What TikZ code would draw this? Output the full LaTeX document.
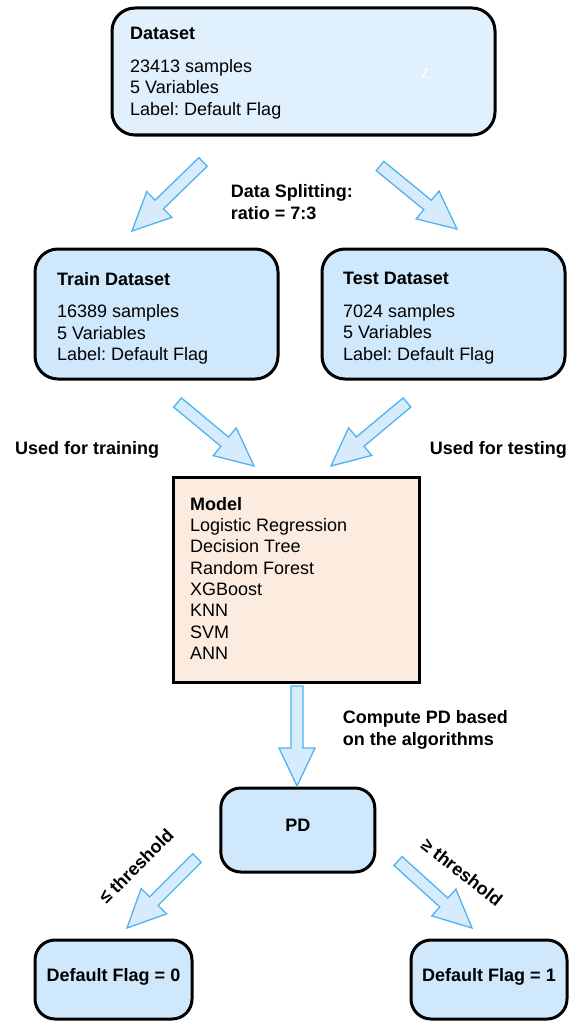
\documentclass[tikz,border=0pt]{standalone}
\usepackage{fontspec}
\setmainfont{Liberation Sans}
\usetikzlibrary{calc}
\frenchspacing

\definecolor{dsfill}{RGB}{224,241,253}
\definecolor{boxfill}{RGB}{208,232,252}
\definecolor{modelfill}{RGB}{252,236,224}
\definecolor{arrowfill}{RGB}{214,236,252}
\definecolor{arrowline}{RGB}{82,178,240}

% block arrow from a tail coordinate to a tip coordinate
\newcommand\blockarrow[2]{%
  \coordinate (#1-base) at ($(#2)!38pt!(#1)$);
  \draw[barrow]
    ($(#1)!6pt!90:(#2)$) -- ($(#1-base)!6pt!90:(#2)$) --
    ($(#1-base)!18pt!90:(#2)$) -- (#2) --
    ($(#1-base)!18pt!-90:(#2)$) -- ($(#1-base)!6pt!-90:(#2)$) --
    ($(#1)!6pt!-90:(#2)$) -- cycle;
}

\tikzset{
  rbox/.style={draw=black, line width=3pt, rounded corners=23pt, fill=boxfill, inner sep=0pt},
  sbox/.style={rbox, rounded corners=20pt, font=\fontsize{18}{21.5}\selectfont\bfseries,
    text height=12.9pt, text depth=9pt},
  mbox/.style={draw=black, line width=3pt, fill=modelfill, inner sep=0pt},
  txt/.style={align=left, inner sep=0pt, anchor=north west, font=\fontsize{18}{21.5}\selectfont},
  lbl/.style={inner sep=0pt, font=\fontsize{18}{22}\selectfont\bfseries},
  barrow/.style={draw=arrowline, fill=arrowfill, line width=1.3pt, line join=miter},
}

\begin{document}
\begin{tikzpicture}[x=1pt, y=-1pt]
\useasboundingbox[fill=white] (0,0) rectangle (573,1022);

% boxes
\node[rbox, fill=dsfill, minimum width=383pt, minimum height=127pt] (ds) at (303.5,71.5) {};
\node[rbox, minimum width=243pt, minimum height=130pt] (train) at (156.5,314) {};
\node[rbox, minimum width=243pt, minimum height=130pt] (test) at (443.5,314) {};
\node[mbox, minimum width=246pt, minimum height=205pt] (model) at (296,579.5) {};
\node[sbox, minimum width=154pt, minimum height=84pt] (pd) at (297.8,830) {PD};
\node[sbox, minimum width=157pt, minimum height=79pt] (f0) at (113.5,979.5) {Default Flag = 0};
\node[sbox, minimum width=156pt, minimum height=79pt] (f1) at (489,979.5) {Default Flag = 1};

% box contents
\node[txt] (dsT) at (130,27.1) {\textbf{Dataset}\\[11pt]23413 samples\\5 Variables\\Label: Default Flag};
\node[inner sep=0pt, anchor=base west, text=white, font=\fontsize{16}{19}\selectfont] (dsZ) at (421,78) {z};
\node[txt] (trainT) at (57,272.1) {\textbf{Train Dataset}\\[11pt]16389 samples\\5 Variables\\Label: Default Flag};
\node[txt] (testT) at (343,272.1) {\textbf{Test Dataset}\\[11pt]7024 samples\\5 Variables\\Label: Default Flag};
\node[txt, font=\fontsize{18}{21.3}\selectfont] (modelT) at (190,497.1) {\textbf{Model}\\Logistic Regression\\Decision Tree\\Random Forest\\XGBoost\\KNN\\SVM\\ANN};

% connector labels
\node[lbl, align=left, anchor=north west] (split) at (230.7,184.1) {Data Splitting:\\ratio = 7:3};
\node[lbl, anchor=base west] (usedtr) at (15,454) {Used for training};
\node[lbl, anchor=base west] (usedte) at (429.7,454) {Used for testing};
\node[lbl, align=left, anchor=north west] (compute) at (342.7,710.1) {Compute PD based\\on the algorithms};
\node[lbl, rotate=45] (le) at (136,866) {≤ threshold};
\node[lbl, rotate=-38] (ge) at (462,872) {≥ threshold};

% arrow end points
\coordinate (a1) at (203,162);   \coordinate (a1t) at (132,231);
\coordinate (a2) at (380,166);   \coordinate (a2t) at (457,229);
\coordinate (a3) at (177.5,402.5); \coordinate (a3t) at (254,466);
\coordinate (a4) at (407,402.5); \coordinate (a4t) at (331,466);
\coordinate (a5) at (297,686);   \coordinate (a5t) at (297,786);
\coordinate (a6) at (197,858);   \coordinate (a6t) at (127,928);
\coordinate (a7) at (398,861);   \coordinate (a7t) at (472,928);

\blockarrow{a1}{a1t}
\blockarrow{a2}{a2t}
\blockarrow{a3}{a3t}
\blockarrow{a4}{a4t}
\blockarrow{a5}{a5t}
\blockarrow{a6}{a6t}
\blockarrow{a7}{a7t}
\end{tikzpicture}
\end{document}
